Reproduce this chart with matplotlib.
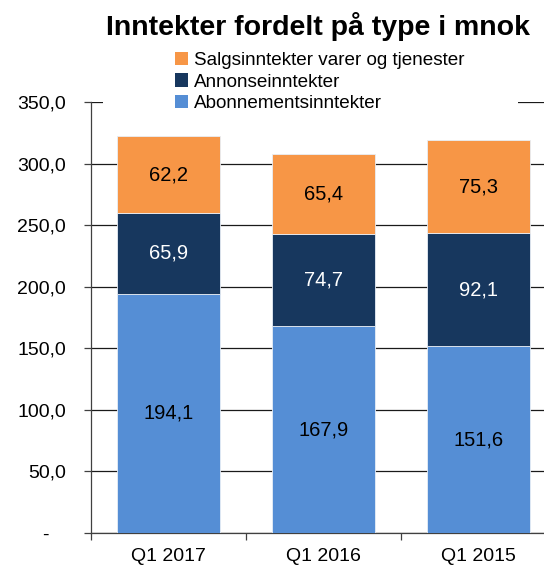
import matplotlib
matplotlib.use('Agg')
import matplotlib.pyplot as plt
from matplotlib.patches import Patch, Rectangle
import numpy as np

plt.rcParams['font.family'] = ['Liberation Sans', 'DejaVu Sans']

categories = ['Q1 2017', 'Q1 2016', 'Q1 2015']
abonnement = [194.1, 167.9, 151.6]
annonse = [65.9, 74.7, 92.1]
salg = [62.2, 65.4, 75.3]
series_names = ['Abonnementsinntekter', 'Annonseinntekter',
                'Salgsinntekter varer og tjenester']
colors = ['#558ED5', '#17375E', '#F79646']
label_colors = ['black', 'white', 'black']
yticks = [0, 50, 100, 150, 200, 250, 300, 350]


def fmt(v):
    return f'{v:.1f}'.replace('.', ',')


fig = plt.figure(figsize=(5.44, 5.68), dpi=100)
ax = fig.add_axes([91 / 544, 1 - 533 / 568, 465 / 544, (533 - 102) / 568])

x = np.arange(len(categories))
bottom = np.zeros(len(categories))
for vals, name, c, lc in zip([abonnement, annonse, salg], series_names, colors, label_colors):
    ax.bar(x, vals, width=0.665, bottom=bottom, color=c, edgecolor='#e8eef6',
           linewidth=0.6, zorder=3, label=name)
    for xi, b, v in zip(x, bottom, vals):
        ax.text(xi, b + v / 2, fmt(v), ha='center', va='center', fontsize=14.5,
                color=lc, zorder=4)
    bottom += np.array(vals)

ax.set_xlim(-0.5, len(categories) - 0.5)
ax.set_ylim(0, 350)
ax.set_yticks(yticks)
ax.set_yticklabels(['-   ' if v == 0 else fmt(v) for v in yticks])
ax.set_xticks(x)
ax.set_xticklabels(categories)
ax.set_xticks(np.arange(len(categories) + 1) - 0.5, minor=True)

ax.grid(axis='y', color='#1a1a1a', linewidth=0.9, zorder=1)
for s in ['top', 'right']:
    ax.spines[s].set_visible(False)
for s in ['left', 'bottom']:
    ax.spines[s].set_color('#404040')
    ax.spines[s].set_linewidth(0.9)
ax.tick_params(axis='y', length=5, width=0.9, color='#404040', labelsize=14, pad=13)
ax.tick_params(axis='x', which='major', length=0, labelsize=14, pad=11)
ax.tick_params(axis='x', which='minor', length=5, width=0.9, color='#404040')

# white box behind the legend hides the top gridline
fig.patches.append(Rectangle((103 / 544, 1 - 110 / 568), 415 / 544, 16 / 568,
                             transform=fig.transFigure, facecolor='white',
                             edgecolor='none', zorder=2))

handles = [Patch(facecolor=c, edgecolor='none') for c in colors][::-1]
fig.legend(handles, series_names[::-1], loc='upper left',
           bbox_to_anchor=(175 / 544, 1 - 52 / 568), frameon=False,
           fontsize=13.6, handlelength=0.7, handleheight=0.7,
           handletextpad=0.3, labelspacing=0.22, borderaxespad=0, borderpad=0)

fig.text(318 / 544, 1 - 35 / 568, 'Inntekter fordelt på type i mnok',
         ha='center', va='baseline', fontsize=20.5, fontweight='bold')

fig.savefig('out.png', dpi=100)
